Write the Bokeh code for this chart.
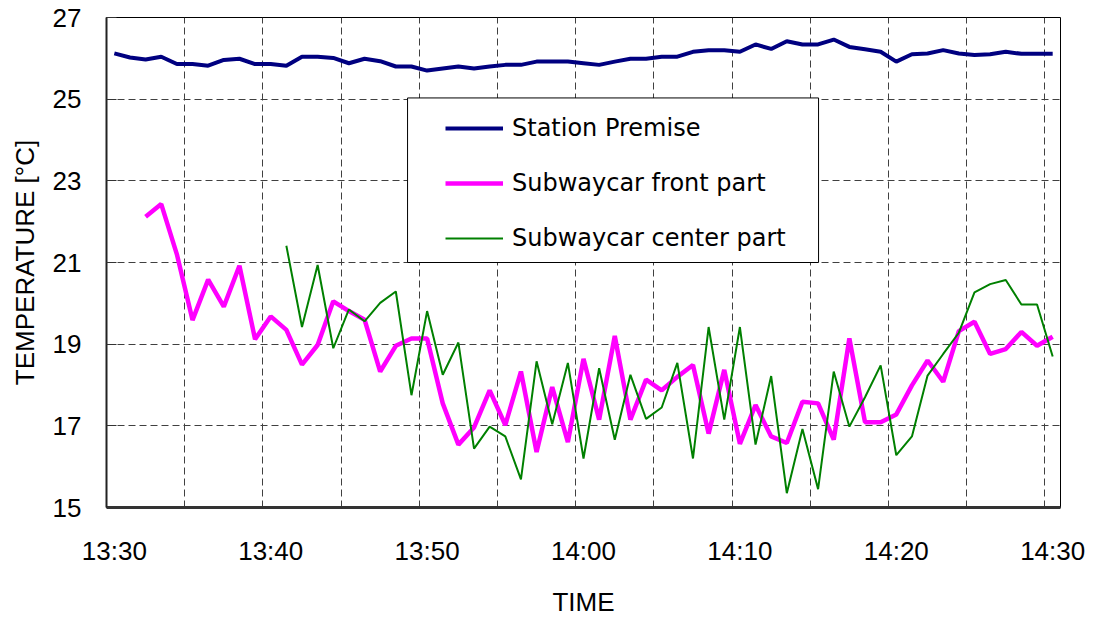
from bokeh.plotting import figure
from bokeh.models import Range1d, FixedTicker, Legend, LegendItem, ColumnDataSource, BoxAnnotation
from bokeh.embed import file_html
from bokeh.resources import INLINE

nan = float("nan")

# minutes after 13:30 (one sample per minute)
minutes = list(range(61))
tick_minutes = [0, 10, 20, 30, 40, 50, 60]
tick_labels = ["13:30", "13:40", "13:50", "14:00", "14:10", "14:20", "14:30"]

station_premise = [26.12, 26.02, 25.97, 26.04, 25.86, 25.86, 25.82, 25.96, 25.99, 25.86,
                   25.86, 25.82, 26.04, 26.04, 26.01, 25.88, 25.99, 25.93, 25.80, 25.80,
                   25.70, 25.75, 25.80, 25.75, 25.80, 25.84, 25.84, 25.92, 25.92, 25.92,
                   25.88, 25.84, 25.92, 25.99, 25.99, 26.04, 26.04, 26.16, 26.20, 26.20,
                   26.16, 26.34, 26.23, 26.42, 26.34, 26.34, 26.46, 26.28, 26.22, 26.16,
                   25.92, 26.10, 26.12, 26.20, 26.12, 26.08, 26.10, 26.16, 26.11, 26.11,
                   26.11]

front_part = [nan, nan, 22.12, 22.43, 21.20, 19.59, 20.58, 19.92, 20.92, 19.12,
              19.68, 19.35, 18.50, 18.98, 20.05, 19.81, 19.60, 18.33, 18.96, 19.14,
              19.14, 17.55, 16.54, 16.96, 17.87, 17.02, 18.33, 16.36, 17.95, 16.60,
              18.64, 17.15, 19.20, 17.15, 18.13, 17.87, 18.20, 18.49, 16.81, 18.37,
              16.56, 17.51, 16.74, 16.58, 17.59, 17.55, 16.66, 19.14, 17.09, 17.09,
              17.28, 17.99, 18.60, 18.08, 19.32, 19.55, 18.76, 18.88, 19.30, 18.96,
              19.18]

center_part = [nan, nan, nan, nan, nan, nan, nan, nan, nan, nan,
               nan, 21.41, 19.42, 20.94, 18.90, 19.85, 19.56, 20.01, 20.29, 17.75,
               19.81, 18.25, 19.04, 16.44, 16.98, 16.74, 15.69, 18.58, 17.04, 18.54,
               16.20, 18.41, 16.66, 18.25, 17.17, 17.45, 18.54, 16.20, 19.42, 17.15,
               19.42, 16.54, 18.22, 15.35, 16.92, 15.45, 18.33, 16.98, 17.70, 18.48,
               16.28, 16.74, 18.23, 18.76, 19.28, 20.27, 20.47, 20.57, 19.97, 19.97,
               18.70]

y_ticks = [15, 17, 19, 21, 23, 25, 27]

src = ColumnDataSource(dict(m=minutes, st=station_premise, fr=front_part, ce=center_part))

p = figure(width=1094, height=619, output_backend="svg", toolbar_location=None,
           x_range=Range1d(-0.5, 60.5), y_range=Range1d(15, 27),
           min_border_left=106, min_border_right=34, min_border_top=17, min_border_bottom=111)

p.background_fill_color = "white"
p.border_fill_color = "white"
p.outline_line_color = "black"
p.outline_line_width = 1

# axes
p.xaxis.ticker = FixedTicker(ticks=tick_minutes)
p.xaxis.major_label_overrides = {m: l for m, l in zip(tick_minutes, tick_labels)}
p.yaxis.ticker = FixedTicker(ticks=y_ticks)
p.xgrid.ticker = FixedTicker(ticks=[m - 0.5 for m in range(5, 61, 5)])

for ax in (p.xaxis[0], p.yaxis[0]):
    ax.major_label_text_font = "Liberation Sans"
    ax.major_label_text_font_size = "26px"
    ax.major_label_text_color = "black"
    ax.axis_label_text_font = "Liberation Sans"
    ax.axis_label_text_font_size = "26px"
    ax.axis_label_text_font_style = "normal"
    ax.axis_label_text_color = "black"
    ax.minor_tick_line_color = None

p.xaxis.axis_label = "TIME"
p.xaxis.axis_line_color = "#333333"
p.xaxis.axis_line_width = 3
p.xaxis.major_tick_line_color = None
p.xaxis.major_tick_in = 0
p.xaxis.major_tick_out = 0
p.xaxis.major_label_standoff = 28
p.xaxis.axis_label_standoff = 18

p.yaxis.axis_label = "TEMPERATURE [\u00b0C]"
p.yaxis.axis_line_color = "#222222"
p.yaxis.axis_line_width = 2
p.yaxis.major_tick_in = 10
p.yaxis.major_tick_out = 0
p.yaxis.major_tick_line_color = "#333333"
p.yaxis.major_label_standoff = 25
p.yaxis.axis_label_standoff = 10

p.grid.grid_line_color = "#404040"
p.grid.grid_line_dash = "7 4"
p.grid.grid_line_width = 1

r1 = p.line("m", "st", source=src, line_color="#000080", line_width=4)
r2 = p.line("m", "fr", source=src, line_color="#FF00FF", line_width=4.5)
r3 = p.line("m", "ce", source=src, line_color="#008000", line_width=2)

# legend frame
p.add_layout(BoxAnnotation(left=18.75, right=45.03, bottom=21.0, top=25.03,
                           fill_color="white", fill_alpha=1.0,
                           line_color="black", line_width=1, line_alpha=1.0))

legend = Legend(items=[LegendItem(label="Station Premise", renderers=[r1]),
                       LegendItem(label="Subwaycar front part", renderers=[r2]),
                       LegendItem(label="Subwaycar center part", renderers=[r3])],
                location=(339, 255))
legend.label_text_font = "DejaVu Sans"
legend.label_text_font_size = "24px"
legend.label_text_color = "black"
legend.glyph_width = 58
legend.glyph_height = 24
legend.label_height = 24
legend.label_standoff = 9
legend.padding = 0
legend.spacing = 27
legend.margin = 0
legend.border_line_color = None
legend.background_fill_alpha = 0
p.add_layout(legend)

open("out.html", "w").write(file_html(p, INLINE))
